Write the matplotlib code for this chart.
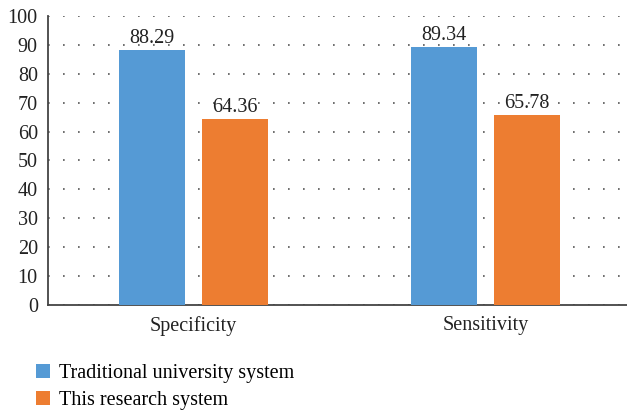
import matplotlib
matplotlib.use("Agg")
import matplotlib.pyplot as plt
import numpy as np

categories = ["Specificity", "Sensitivity"]
series_names = ["Traditional university system", "This research system"]
traditional = [88.29, 89.34]
research = [64.36, 65.78]
yticks = [0, 10, 20, 30, 40, 50, 60, 70, 80, 90, 100]
colors = ["#559AD5", "#ED7D31"]

plt.rcParams['font.family'] = ['Liberation Serif', 'DejaVu Serif']
FS = 14.5

fig = plt.figure(figsize=(6.27, 4.11), dpi=100)
ax = fig.add_axes([47.5 / 627, 0.258, 584 / 627, 0.703])

x = np.arange(len(categories))
w = 0.226
off = 0.1425
b1 = ax.bar(x - off, traditional, w, color=colors[0], label=series_names[0], zorder=3)
b2 = ax.bar(x + off, research, w, color=colors[1], label=series_names[1], zorder=3)
for bars, vals in ((b1, traditional), (b2, research)):
    for r, v in zip(bars, vals):
        ax.text(r.get_x() + r.get_width() / 2, v + 0.6, f"{v:.2f}", ha="center", va="bottom",
                fontsize=FS, color="#222222")

ax.set_xlim(-0.5, 1.5)
ax.set_ylim(0, 100)
ax.set_yticks(yticks)
ax.set_xticks(x)
ax.set_xticklabels(categories)
ax.tick_params(axis='both', length=0, labelsize=FS, colors="#222222")
ax.tick_params(axis='y', pad=7)
ax.tick_params(axis='x', pad=8)
for s in ["top", "right"]:
    ax.spines[s].set_visible(False)
for s in ["left", "bottom"]:
    ax.spines[s].set_color("#444444")
    ax.spines[s].set_linewidth(1.3)
ax.yaxis.grid(True, linestyle=(0, (1, 8)), color="#555555", linewidth=1.2, zorder=0)
ax.set_axisbelow(True)

fig.legend(handles=[b1, b2], labels=series_names, loc="upper left", bbox_to_anchor=(0.045, 0.135),
           frameon=False, fontsize=FS, handlelength=0.7, handleheight=0.7,
           handletextpad=0.45, labelspacing=0.4, borderaxespad=0)

fig.savefig("out.png", dpi=100)
